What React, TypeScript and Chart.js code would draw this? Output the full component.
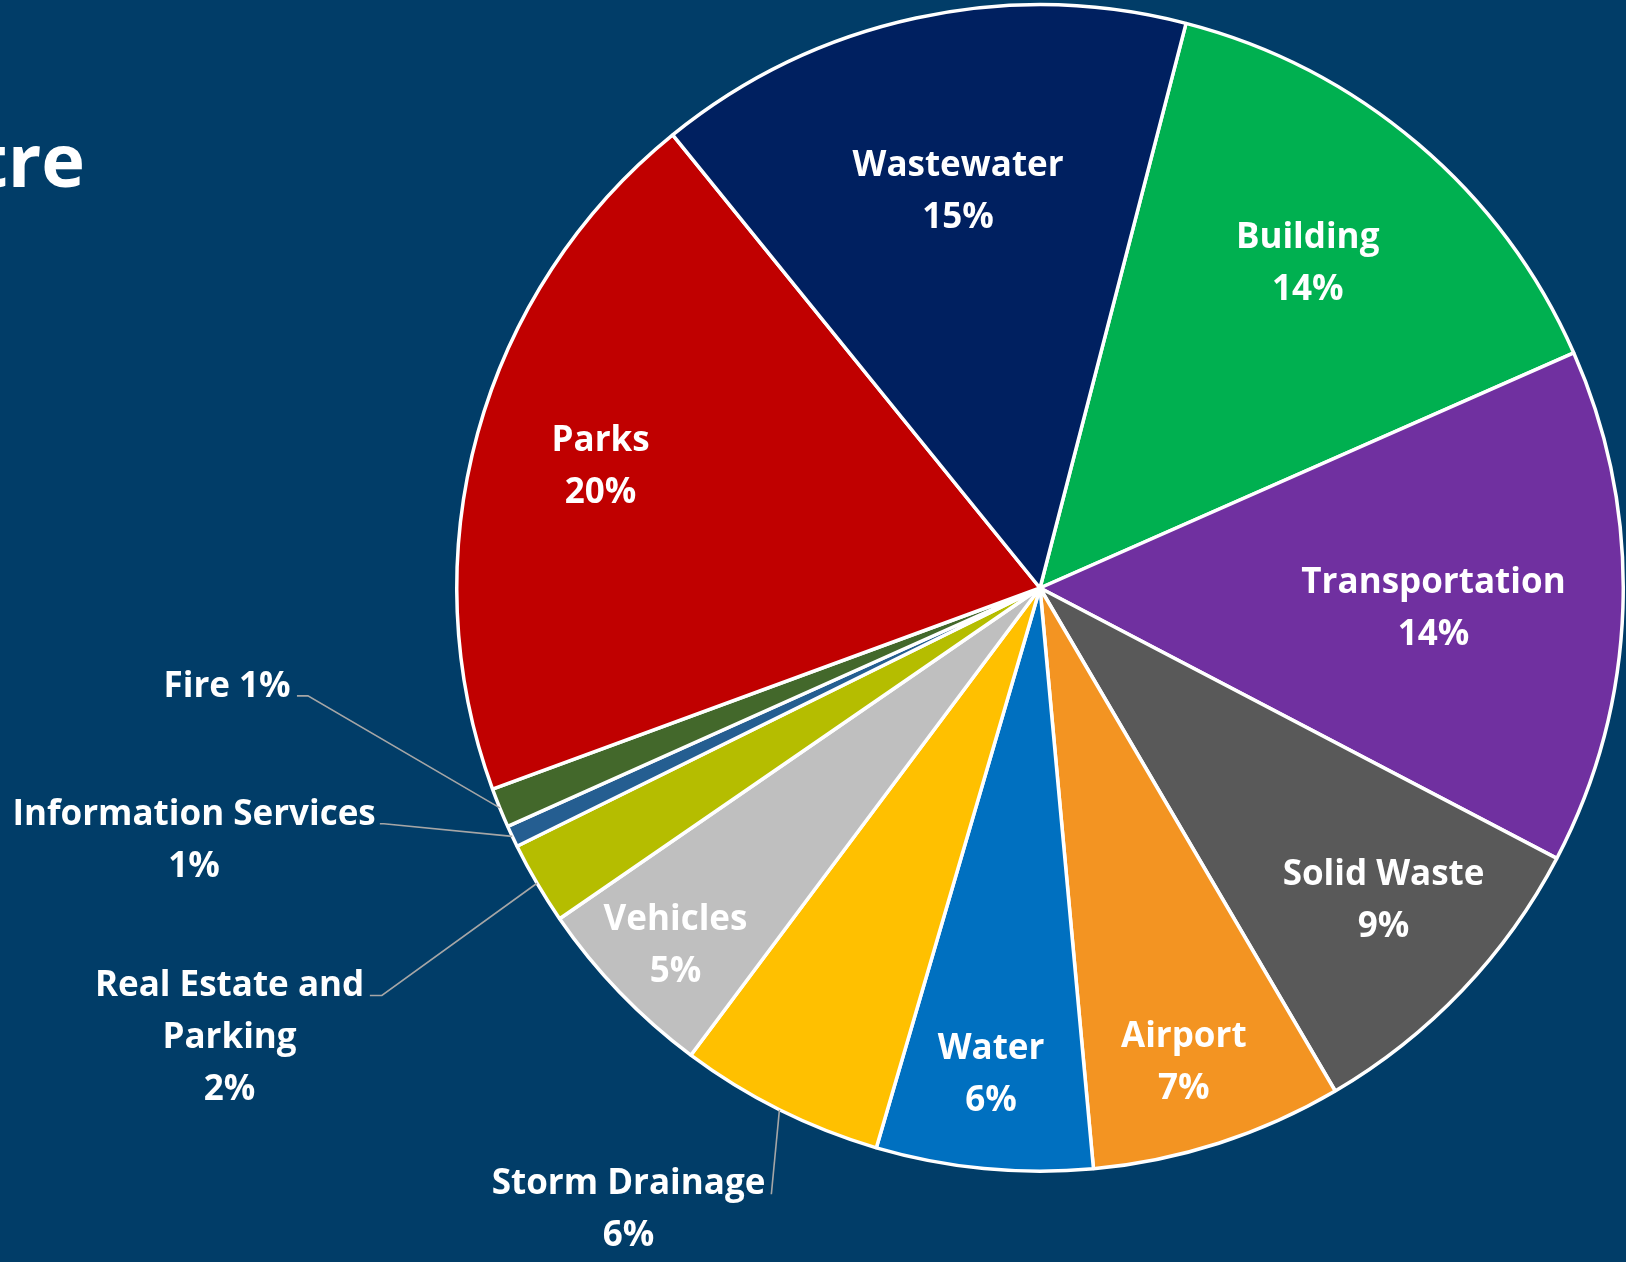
import React, { useEffect, useRef } from "react";
import { Chart, registerables } from "chart.js";

Chart.register(...registerables);

const categories = [
  "Building",
  "Transportation",
  "Solid Waste",
  "Airport",
  "Water",
  "Storm Drainage",
  "Vehicles",
  "Real Estate and Parking",
  "Information Services",
  "Fire",
  "Parks",
  "Wastewater",
];

const shares = [14.4, 14.3, 8.9, 7.0, 6.0, 5.7, 5.2, 2.3, 0.6, 1.1, 19.8, 14.9];

const sliceColors = [
  "#00B050",
  "#7030A0",
  "#595959",
  "#F39422",
  "#0070C0",
  "#FFC000",
  "#BFBFBF",
  "#B5BD00",
  "#255E91",
  "#43682B",
  "#C00000",
  "#002060",
];

// Display name lines for each slice label
const labelLines = [
  ["Building"],
  ["Transportation"],
  ["Solid Waste"],
  ["Airport"],
  ["Water"],
  ["Storm Drainage"],
  ["Vehicles"],
  ["Real Estate and", "Parking"],
  ["Information Services"],
  ["Fire"],
  ["Parks"],
  ["Wastewater"],
];

const TITLE_TEXT = "Centre";
const BG = "#013D68";
const REF_R = 584;

// Inside label block centres, offsets from pie centre (px at reference radius)
const insideLabels: Record<number, [number, number]> = {
  0: [268, -327],
  1: [394, 19],
  2: [344, 311],
  3: [144, 473],
  4: [-49, 485],
  6: [-365, 356],
  10: [-440, -124],
  11: [-82, -399],
};

// Outside labels: [centerX, firstBaseline, elbowX, elbowY, endX, endY, inline]
const outsideLabels: Record<number, number[]> = {
  9: [-814, 109, -733, 108, -744, 108, 1],
  8: [-847, 237, -657, 236, -661, 236, 0],
  7: [-811.5, 409, -659, 408, -671, 408, 0],
  5: [-412, 607, -269, 607, -269, 607, 0],
};

const FONT = "bold 35px 'Open Sans', 'DejaVu Sans', sans-serif";
const LINE_H = 52;
const CAP_H = 25;

const labelPlugin = {
  id: "sliceLabels",
  afterDraw(chart: any) {
    const ctx = chart.ctx;
    const meta = chart.getDatasetMeta(0);
    const data = chart.data.datasets[0].data as number[];
    const total = data.reduce((a, b) => a + b, 0);
    ctx.save();
    // Title fragment (cut off at the left edge)
    ctx.fillStyle = "#FFFFFF";
    ctx.font = "bold 74px 'Open Sans', 'DejaVu Sans', sans-serif";
    ctx.textAlign = "right";
    ctx.textBaseline = "alphabetic";
    ctx.fillText(TITLE_TEXT, 85, 187);

    ctx.font = FONT;
    ctx.textAlign = "center";
    meta.data.forEach((arc: any, i: number) => {
      const { x: cx, y: cy, outerRadius: R, startAngle, endAngle } = arc.getProps(
        ["x", "y", "outerRadius", "startAngle", "endAngle"],
        true
      );
      const k = R / REF_R;
      const pct = Math.round((data[i] / total) * 100) + "%";
      if (insideLabels[i]) {
        const [ox, oy] = insideLabels[i];
        const lines = [...labelLines[i], pct];
        const centerY = cy + oy * k;
        const b1 = centerY - (LINE_H * (lines.length - 1) - CAP_H) / 2;
        ctx.fillStyle = "#FFFFFF";
        lines.forEach((t, j) => ctx.fillText(t, cx + ox * k, b1 + j * LINE_H));
      } else if (outsideLabels[i]) {
        const [lx, lb, ex, ey, tx, ty, inline] = outsideLabels[i];
        const mid = (startAngle + endAngle) / 2;
        const px = cx + Math.cos(mid) * R;
        const py = cy + Math.sin(mid) * R;
        ctx.strokeStyle = "#A6A6A6";
        ctx.lineWidth = 1.6;
        ctx.beginPath();
        ctx.moveTo(px, py);
        ctx.lineTo(cx + ex * k, cy + ey * k);
        ctx.lineTo(cx + tx * k, cy + ty * k);
        ctx.stroke();
        const lines = inline
          ? [labelLines[i].join(" ") + " " + pct]
          : [...labelLines[i], pct];
        ctx.fillStyle = "#FFFFFF";
        lines.forEach((t, j) => ctx.fillText(t, cx + lx * k, cy + lb * k + j * LINE_H));
      }
    });
    ctx.restore();
  },
};

export default function App() {
  const canvasRef = useRef<HTMLCanvasElement | null>(null);

  useEffect(() => {
    const canvas = canvasRef.current;
    if (!canvas) return;
    const chart = new Chart(canvas, {
      type: "pie",
      data: {
        labels: categories,
        datasets: [
          {
            data: shares,
            backgroundColor: sliceColors,
            borderColor: "#FFFFFF",
            borderWidth: 3.5,
          },
        ],
      },
      options: {
        responsive: false,
        animation: false,
        devicePixelRatio: 1,
        rotation: 14.5,
        layout: { padding: { left: 455, right: 1, top: 3, bottom: 89 } },
        plugins: {
          legend: { display: false },
          tooltip: { enabled: false },
          title: { display: false },
        },
      },
      plugins: [labelPlugin],
    });
    return () => chart.destroy();
  }, []);

  return (
    <div
      style={{
        position: "fixed",
        left: 0,
        top: 0,
        width: 1626,
        height: 1262,
        background: BG,
        overflow: "hidden",
      }}
    >
      <canvas ref={canvasRef} width={1626} height={1262} style={{ display: "block" }} />
    </div>
  );
}
